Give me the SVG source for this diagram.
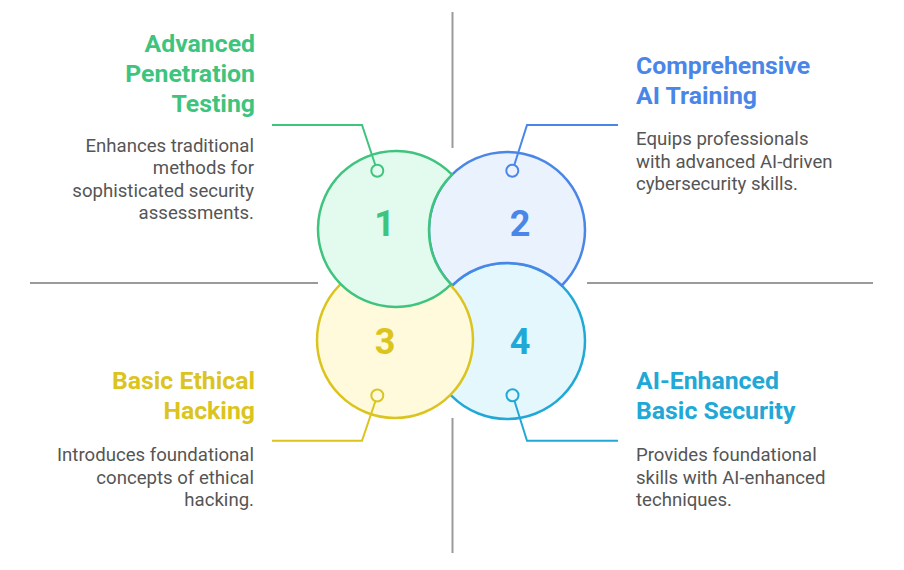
<svg xmlns="http://www.w3.org/2000/svg" width="904" height="570" viewBox="0 0 904 570">
<style>
.t{font-family:Roboto,"Liberation Sans",sans-serif;font-weight:700;font-size:24.8px}
.d{font-family:Roboto,"Liberation Sans",sans-serif;font-size:18.6px;fill:#555555}
.n{font-family:Roboto,"Liberation Sans",sans-serif;font-weight:700;font-size:36px;text-anchor:middle}
.r{text-anchor:end}
.axis{stroke:#9a9a9a;stroke-width:2;fill:none}
.g{stroke:#3fc47e;fill:#e3fbef}
.b{stroke:#4a86e8;fill:#eaf2fe}
.y{stroke:#dcc41e;fill:#fefadb}
.c{stroke:#22a8d6;fill:#e4f7fd}
.sh{stroke-width:2.5}
.ln{fill:none;stroke-width:2}
.pin{stroke-width:2}
</style>
<g id="axes">
<line class="axis" x1="452.5" y1="12" x2="452.5" y2="148"/>
<line class="axis" x1="452.5" y1="418" x2="452.5" y2="553"/>
<line class="axis" x1="30" y1="283" x2="318" y2="283"/>
<line class="axis" x1="587" y1="283" x2="873" y2="283"/>
</g>
<g id="node4">
<circle class="c sh" cx="507" cy="341" r="78"/>
</g>
<g id="node2">
<path class="b sh" d="M452.2 285.5 A78 78 0 1 1 561.8 285.5 A78 78 0 0 0 452.2 285.5 Z"/>
</g>
<g id="node3">
<circle class="y sh" cx="395" cy="340" r="78"/>
</g>
<g id="node1">
<path class="g sh" d="M452 174.7 A78 78 0 1 0 451 284.3 A78 78 0 0 1 452 174.7 Z"/>
</g>
<g id="connectors">
<polyline class="g ln" points="272,125 362,125 375.3,165"/>
<polyline class="b ln" points="618,125 527,125 514.3,165"/>
<polyline class="y ln" points="272,440.7 362,440.7 375.3,401.5"/>
<polyline class="c ln" points="618,440.7 527,440.7 514.5,401"/>
<circle class="g pin" cx="377.3" cy="170.7" r="6"/>
<circle class="b pin" cx="512.3" cy="170.7" r="6"/>
<circle class="y pin" cx="377.3" cy="395.5" r="6"/>
<circle class="c pin" cx="512.5" cy="395.3" r="6"/>
</g>
<g id="label1">
<text class="n" x="384.5" y="236" fill="#3fc47e">1</text>
<text class="t r" x="255" y="52.3" fill="#3fc47e">Advanced</text>
<text class="t r" x="255" y="82.3" fill="#3fc47e">Penetration</text>
<text class="t r" x="255" y="112.3" fill="#3fc47e">Testing</text>
<text class="d r" x="254" y="151.5">Enhances traditional</text>
<text class="d r" x="254" y="174">methods for</text>
<text class="d r" x="254" y="196.5">sophisticated security</text>
<text class="d r" x="254" y="219">assessments.</text>
</g>
<g id="label2">
<text class="n" x="520" y="236" fill="#4a86e8">2</text>
<text class="t" x="636" y="74.3" fill="#4a86e8">Comprehensive</text>
<text class="t" x="636" y="104.3" fill="#4a86e8">AI Training</text>
<text class="d" x="636" y="145">Equips professionals</text>
<text class="d" x="636" y="167.5">with advanced AI-driven</text>
<text class="d" x="636" y="190">cybersecurity skills.</text>
</g>
<g id="label3">
<text class="n" x="385" y="354" fill="#dcc41e">3</text>
<text class="t r" x="255" y="389.3" fill="#dcc41e">Basic Ethical</text>
<text class="t r" x="255" y="419.3" fill="#dcc41e">Hacking</text>
<text class="d r" x="254" y="461">Introduces foundational</text>
<text class="d r" x="254" y="483.5">concepts of ethical</text>
<text class="d r" x="254" y="506">hacking.</text>
</g>
<g id="label4">
<text class="n" x="520" y="354" fill="#22a8d6">4</text>
<text class="t" x="636" y="389.3" fill="#22a8d6">AI-Enhanced</text>
<text class="t" x="636" y="419.3" fill="#22a8d6">Basic Security</text>
<text class="d" x="636" y="461">Provides foundational</text>
<text class="d" x="636" y="483.5">skills with AI-enhanced</text>
<text class="d" x="636" y="506">techniques.</text>
</g>
</svg>
